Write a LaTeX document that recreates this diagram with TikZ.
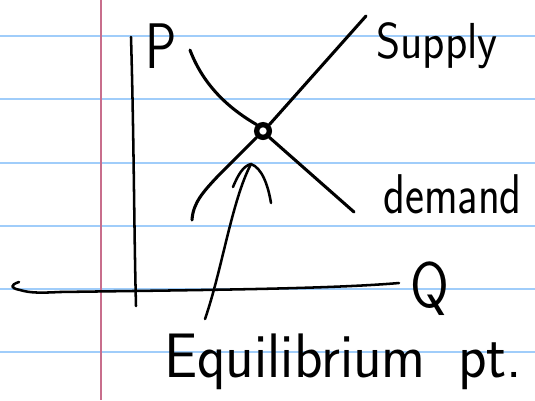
\documentclass[tikz,border=0pt]{standalone}
\usetikzlibrary{calc}
\definecolor{ruleblue}{RGB}{160,205,250}
\definecolor{marginred}{RGB}{200,110,140}
\begin{document}
\begin{tikzpicture}[x=0.75pt,y=-0.75pt,
  ink/.style={line width=2.3pt,line cap=round,line join=round,black},
  thinink/.style={line width=1.9pt,line cap=round,line join=round,black},
  rule/.style={ruleblue,line width=1.6pt},
  hand/.style={inner sep=0pt,font=\sffamily}]
\useasboundingbox (0,0) rectangle (535,400);
\fill[white] (0,0) rectangle (535,400);
% ruled paper
\foreach \yy in {36,99,163,226,289,352}
  \draw[rule] (0,\yy) -- (535,\yy);
\draw[marginred,line width=1.5pt] (101,0) -- (101,400);
% axes
\coordinate (ytop) at (131,37);
\coordinate (ybot) at (136,306);
\draw[thinink] (ytop) .. controls (134,140) and (134,230) .. (ybot);
\coordinate (xl) at (19,282);
\coordinate (xr) at (399,283);
\draw[thinink] (xl) .. controls (10,285) and (10,288) .. (20,290)
  .. controls (30,293) and (40,293) .. (60,292)
  .. controls (200,290) and (330,289) .. (xr);
% labels
\node[hand,font=\sffamily\fontsize{46}{46}\selectfont,anchor=base west] (P) at (145,68) {\scalebox{0.85}[1.05]{P}};
\node[hand,font=\sffamily\fontsize{42}{42}\selectfont,anchor=base west] (Q) at (410,307) {\scalebox{1}[1.15]{Q}};
\node[hand,font=\sffamily\fontsize{33}{33}\selectfont,anchor=base west] (supply) at (376,58) {\scalebox{1.05}[1.15]{Supply}};
\node[hand,font=\sffamily\fontsize{30}{30}\selectfont,anchor=base west] (demand) at (383,213) {\scalebox{1.13}[1.4]{demand}};
\node[hand,font=\sffamily\fontsize{41}{41}\selectfont,anchor=base west] (eqlab) at (164,377) {\scalebox{1.08}[1.15]{Equilibrium\hspace{0.55em}pt.}};
% equilibrium point
\node[draw,circle,line width=4pt,minimum size=9.5pt,inner sep=0pt] (eq) at (263,131) {};
% demand curve
\coordinate (dtop) at (190,50);
\coordinate (dbot) at (354,212);
\draw[ink] (dtop) .. controls (205,90) and (235,112) .. (eq.north west)
  (eq.south east) -- (dbot);
% supply curve
\coordinate (sbot) at (192,220);
\coordinate (stop) at (366,16);
\draw[ink] (sbot) .. controls (193,203) and (203,192) .. (218,176) -- (eq.south west)
  (eq.north east) -- (stop);
% arrow
\coordinate (ashaft) at (205,319);
\coordinate (apeak) at (251,164);
\coordinate (aleft) at (233,187);
\coordinate (aright) at (271,203);
\draw[thinink] (ashaft) .. controls (222,270) and (232,200) .. (apeak);
\draw[thinink] (aleft) .. controls (238,175) and (243,166) .. (apeak)
  .. controls (262,168) and (268,185) .. (aright);
\end{tikzpicture}
\end{document}
